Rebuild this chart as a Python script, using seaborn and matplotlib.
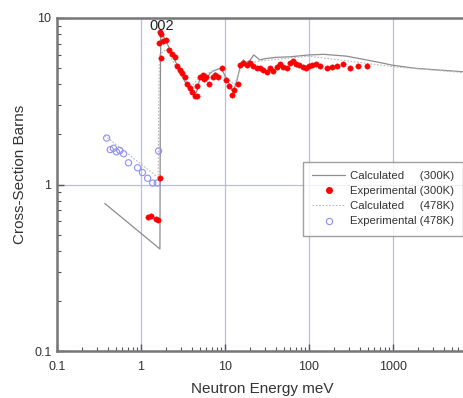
import matplotlib.pyplot as plt
import matplotlib.ticker as mticker
from matplotlib.lines import Line2D
import pandas as pd
import seaborn as sns

# Data #

calc300_E = [0.37, 1.68, 1.70, 1.72, 1.8, 2.0, 2.3, 2.7, 3.2, 3.8, 4.3, 4.6, 5.0, 5.5, 6.0, 6.5, 7.2, 8.0,
             9.0, 10.0, 11.0, 12.0, 13.0, 14.0, 15.0, 16.5, 18.0, 20.0, 22.0, 26.0, 30.0, 40.0, 60.0, 100.0,
             150.0, 280.0, 640.0, 1000.0, 1900.0, 7000.0]
calc300_xs = [0.77, 0.41, 4.0, 8.5, 8.0, 7.2, 6.2, 5.2, 4.3, 3.7, 3.5, 3.6, 4.3, 4.5, 4.2, 4.6, 4.8, 4.9,
              5.0, 4.5, 4.1, 3.7, 3.8, 4.3, 5.0, 5.6, 5.4, 5.6, 6.0, 5.6, 5.7, 5.8, 5.85, 6.0,
              6.05, 5.9, 5.45, 5.2, 4.98, 4.75]

calc478_E = [0.37, 1.6, 1.63, 1.66, 2.0, 2.5, 3.0, 4.0, 5.0, 7.0, 10.0, 13.0, 16.0, 25.0, 100.0,
             1000.0, 7000.0]
calc478_xs = [1.97, 1.1, 3.5, 6.0, 6.5, 5.3, 4.5, 3.9, 4.4, 4.8, 4.4, 4.0, 5.2, 5.5, 5.9,
              5.1, 4.7]

exp300_E = [1.22, 1.33, 1.51, 1.6, 1.68, 1.63, 1.68, 1.73, 1.73, 1.83, 1.96, 2.13, 2.32, 2.54, 2.7,
            2.92, 3.1, 3.3, 3.55, 3.83, 4.1, 4.35, 4.6, 4.7, 5.1, 5.4, 5.6, 6.0, 6.5, 7.1, 7.6, 8.2,
            9.1, 10.4, 11.2, 12.1, 12.9, 14.1, 15.1, 16.5, 18.1, 19.8, 21.7, 23.8, 26.1, 28.6, 31.3,
            34.3, 37.6, 41.2, 45.1, 49.4, 54.2, 59.4, 65.0, 69.7, 76.4, 83.7, 91.8, 100.6, 110.0,
            121.0, 137.0, 162.0, 186.0, 216.0, 256.0, 306.0, 386.0, 496.0]
exp300_xs = [0.635, 0.65, 0.62, 0.616, 1.1, 7.06, 8.24, 8.0, 5.74, 7.3, 7.4, 6.46, 6.04, 5.85, 5.17,
             4.86, 4.7, 4.4, 4.04, 3.82, 3.58, 3.4, 3.39, 3.93, 4.4, 4.54, 4.33, 4.4, 4.04, 4.43, 4.54, 4.43,
             4.98, 4.24, 3.9, 3.47, 3.68, 4.04, 5.2, 5.33, 5.2, 5.33, 5.13, 4.98, 5.03, 4.86, 4.76,
             4.98, 4.81, 5.1, 5.28, 5.1, 4.98, 5.37, 5.54, 5.28, 5.2, 5.1, 5.0, 5.13, 5.2,
             5.28, 5.13, 5.0, 5.1, 5.13, 5.28, 4.98, 5.17, 5.17]

exp478_E = [0.39, 0.43, 0.47, 0.51, 0.56, 0.62, 0.71, 0.91, 1.04, 1.2, 1.38, 1.56, 1.62]
exp478_xs = [1.9, 1.62, 1.65, 1.57, 1.6, 1.53, 1.35, 1.26, 1.18, 1.09, 1.02, 1.02, 1.59]

x_ticks = [0.1, 1, 10, 100, 1000]
x_ticklabels = ["0.1", "1", "10", "100", "1000"]
y_ticks = [0.1, 1, 10]
y_ticklabels = ["0.1", "1", "10"]

calc300_df = pd.DataFrame({"E": calc300_E, "xs": calc300_xs})
calc478_df = pd.DataFrame({"E": calc478_E, "xs": calc478_xs})
exp300_df = pd.DataFrame({"E": exp300_E, "xs": exp300_xs})
exp478_df = pd.DataFrame({"E": exp478_E, "xs": exp478_xs})

# Plot #

sns.set_style("white")
plt.rcParams['font.family'] = ['Liberation Sans', 'DejaVu Sans']

fig = plt.figure(figsize=(4.64, 3.98), dpi=100)
ax = fig.add_axes([57 / 464, 1 - 351 / 398, 1 - 57 / 464, (351 - 18) / 398])

sns.lineplot(data=calc300_df, x="E", y="xs", ax=ax, color="#8c8c8c", linewidth=0.9, sort=False,
             estimator=None, zorder=3)
sns.lineplot(data=calc478_df, x="E", y="xs", ax=ax, color="#b8b8b8", linewidth=0.8, linestyle=(0, (1.5, 1.5)),
             sort=False, estimator=None, zorder=3)
sns.scatterplot(data=exp478_df, x="E", y="xs", ax=ax, marker="o", s=20, facecolor="none",
                edgecolor="#8f8ff5", linewidth=0.8, zorder=4)
sns.scatterplot(data=exp300_df, x="E", y="xs", ax=ax, marker="o", s=15, color="#ff0000",
                edgecolor="#ff0000", linewidth=0.3, zorder=5)

ax.set_xscale("log")
ax.set_yscale("log")
ax.set_xlim(0.1, 7000)
ax.set_ylim(0.1, 10)

ax.set_xticks(x_ticks)
ax.set_xticklabels(x_ticklabels)
ax.set_yticks(y_ticks)
ax.set_yticklabels(y_ticklabels)
ax.xaxis.set_minor_locator(mticker.LogLocator(base=10, subs=range(2, 10), numticks=20))
ax.yaxis.set_minor_locator(mticker.LogLocator(base=10, subs=range(2, 10), numticks=20))
ax.xaxis.set_minor_formatter(mticker.NullFormatter())
ax.yaxis.set_minor_formatter(mticker.NullFormatter())
ax.tick_params(which="both", direction="in", color="#555555", labelsize=9, labelcolor="#333333",
               top=False, right=False, bottom=True, left=True)
ax.tick_params(which="major", length=5, width=1)
ax.tick_params(axis="x", which="major", pad=7)
ax.tick_params(axis="y", which="major", pad=4)
ax.tick_params(which="minor", length=3, width=0.8)

ax.grid(which="major", color="#b8b8fa", linewidth=0.9)
ax.set_axisbelow(True)

for side in ["left", "bottom", "top"]:
    ax.spines[side].set_color("#777777")
    ax.spines[side].set_linewidth(1.8)
ax.spines["right"].set_visible(False)

ax.set_xlabel("Neutron Energy meV", fontsize=11, color="#333333")
ax.set_ylabel("Cross-Section Barns", fontsize=11, color="#333333")
ax.xaxis.set_label_coords((262 - 57) / 407, -(382 - 351) / 333)
ax.yaxis.set_label_coords((27 - 57) / 407, (351 - 174) / 333)

ax.text(1.75, 9.0, "002", fontsize=10.5, color="#222222", ha="center", va="center", zorder=6)

handles = [
    Line2D([], [], color="#8c8c8c", linewidth=0.9),
    Line2D([], [], color="#ff0000", marker="o", markersize=4, linestyle="none"),
    Line2D([], [], color="#b8b8b8", linewidth=0.8, linestyle=(0, (1.5, 1.5))),
    Line2D([], [], color="#8f8ff5", marker="o", markersize=4.5, markerfacecolor="none",
           markeredgewidth=0.8, linestyle="none"),
]
labels = ["Calculated     (300K)", "Experimental (300K)", "Calculated     (478K)", "Experimental (478K)"]
leg = ax.legend(handles, labels, loc="upper left", bbox_to_anchor=(303 / 464, 1 - 162 / 398),
                bbox_transform=fig.transFigure, fontsize=8.2, frameon=True, fancybox=False,
                handlelength=2.9, handletextpad=0.4, labelspacing=0.45, borderpad=0.8,
                borderaxespad=0)
leg.get_frame().set_edgecolor("#888888")
leg.get_frame().set_linewidth(1.0)
for t in leg.get_texts():
    t.set_color("#333333")

plt.savefig("out.png", format="png", dpi=100)
